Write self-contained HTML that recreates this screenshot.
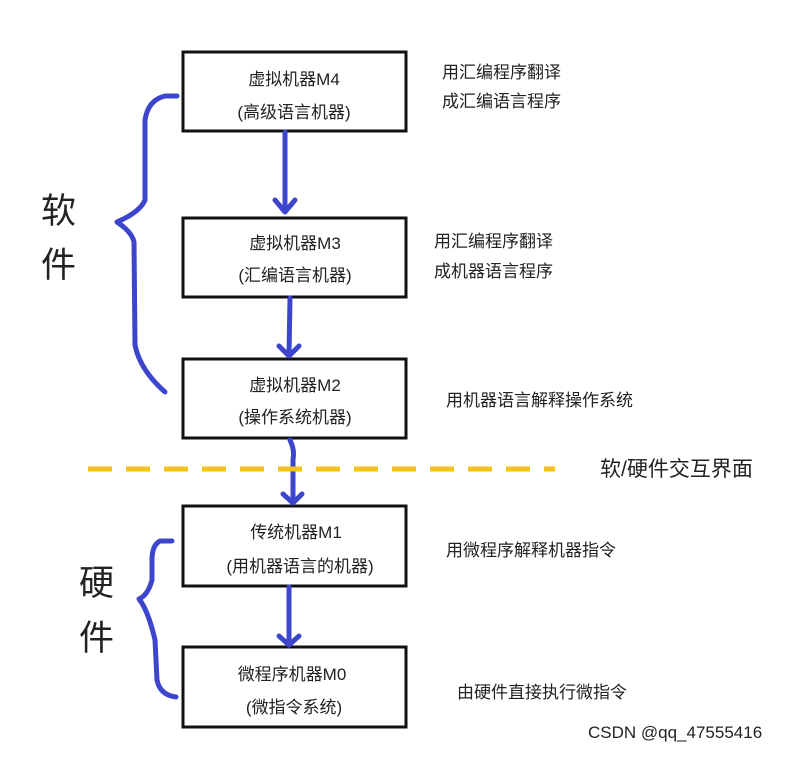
<!DOCTYPE html>
<html><head><meta charset="utf-8"><style>
body{margin:0;background:#fff}
svg text{font-family:"Liberation Sans","Noto Sans CJK SC",sans-serif;fill:#222}
</style></head><body>
<svg width="788" height="752" viewBox="0 0 788 752" xmlns="http://www.w3.org/2000/svg">
<g fill="none" stroke="#111" stroke-width="3">
<rect x="183" y="52" width="223" height="79"/>
<rect x="183" y="218" width="223" height="79"/>
<rect x="183" y="359" width="223" height="79"/>
<rect x="183" y="506" width="223" height="80"/>
<rect x="183" y="647" width="223" height="80"/>
</g>
<g fill="none" stroke="#3d45cc" stroke-width="5" stroke-linecap="round" stroke-linejoin="round">
<path d="M285 132 L285 212 M275 200 L285 212 L295 200"/>
<path d="M290 298 L289 356 M279 346 L289 356 L299 346"/>
<path d="M290 440 Q295 450 293 460 L293 503 M283 494 L293 503 L302 494"/>
<path d="M289 587 L289 645 M279 636 L289 645 L299 636"/>
<path d="M177 96 L165 96 Q148 100 145 120 L145 200 Q140 212 117 222 Q132 232 134 242 L135 345 Q140 370 165 392"/>
<path d="M172 541 L160 541 Q152 545 152 560 L152 580 Q148 595 139 599 Q148 610 155 640 L157 680 Q160 695 176 697"/>
</g>
<line x1="88" y1="469" x2="555" y2="469" stroke="#f5c218" stroke-width="5" stroke-dasharray="24,14"/>
<g font-size="17" text-anchor="middle">
<text x="294" y="85">虚拟机器M4</text><text x="294" y="118">(高级语言机器)</text>
<text x="295" y="249">虚拟机器M3</text><text x="295" y="281">(汇编语言机器)</text>
<text x="295" y="391">虚拟机器M2</text><text x="295" y="423">(操作系统机器)</text>
<text x="296" y="538">传统机器M1</text><text x="300" y="572">(用机器语言的机器)</text>
<text x="292" y="680">微程序机器M0</text><text x="294" y="713">(微指令系统)</text>
</g>
<g font-size="17">
<text x="442" y="78">用汇编程序翻译</text><text x="442" y="107">成汇编语言程序</text>
<text x="434" y="247">用汇编程序翻译</text><text x="434" y="277">成机器语言程序</text>
<text x="446" y="406">用机器语言解释操作系统</text>
<text x="446" y="556">用微程序解释机器指令</text>
<text x="457" y="698">由硬件直接执行微指令</text>
<text x="600" y="476" font-size="21">软/硬件交互界面</text>
<text x="588" y="738" font-size="17" fill="#444">CSDN @qq_47555416</text>
</g>
<g font-size="35">
<text x="41" y="223">软</text><text x="41" y="277">件</text>
<text x="79" y="595">硬</text><text x="79" y="650">件</text>
</g>
</svg>
</body></html>
